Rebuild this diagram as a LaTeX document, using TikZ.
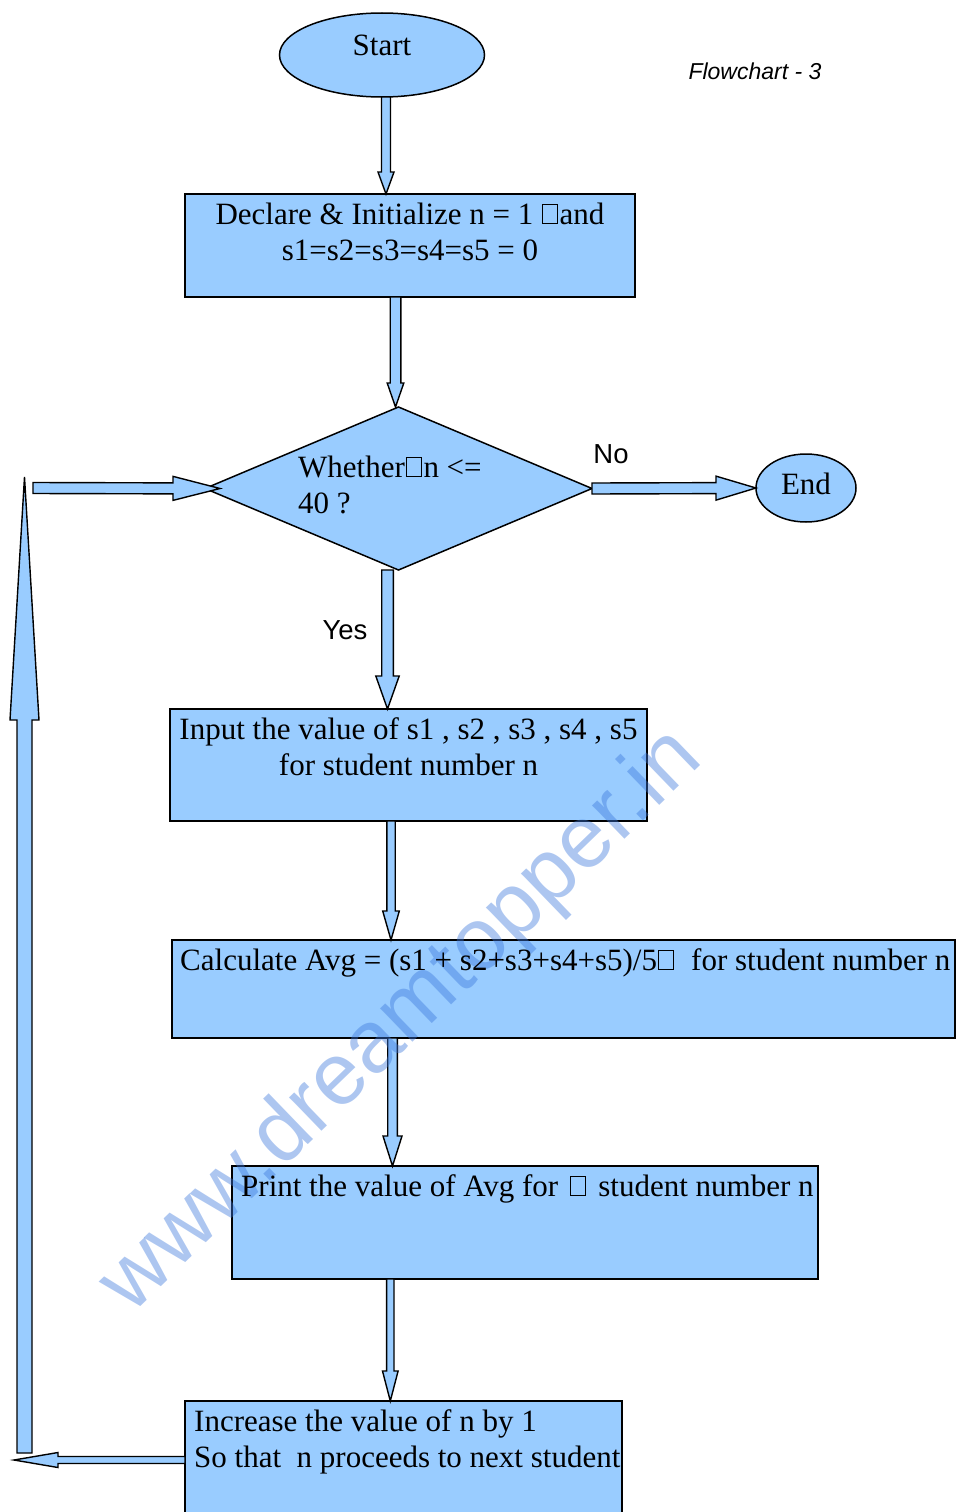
\documentclass[tikz,border=0pt]{standalone}
\usepackage{fontspec}
\setmainfont{Liberation Serif}
\setsansfont{Liberation Sans}
\usetikzlibrary{shapes.geometric,calc}
\definecolor{boxblue}{RGB}{153,204,255}
\definecolor{wm}{RGB}{60,120,220}
\newcommand\tofu{\kern1pt\vbox{\hrule height 0.8pt\hbox{\vrule width 0.8pt height 18.5pt\kern14pt\vrule width 0.8pt}\hrule height 0.8pt}\kern2pt}
% block arrow: #1 from, #2 to (tip), #3 half shaft, #4 half head, #5 head length
\newcommand\blk[5]{%
  \coordinate (hh) at ($(#2)!#5!(#1)$);
  \draw[arr] ($(#1)!#3!90:(#2)$) -- ($(hh)!#3!90:(#2)$) -- ($(hh)!#4!90:(#2)$) -- (#2)
    -- ($(hh)!#4!-90:(#2)$) -- ($(hh)!#3!-90:(#2)$) -- ($(#1)!#3!-90:(#2)$) -- cycle;}
\begin{document}
\begin{tikzpicture}[x=1pt,y=-1pt,
  shp/.style={draw=black, fill=boxblue, line width=1.5pt, inner sep=0pt, outer sep=0pt},
  boxs/.style={shp, rectangle, anchor=north west},
  ell/.style={shp, ellipse},
  arr/.style={draw=black, fill=boxblue, line width=1.4pt, line join=miter},
  txt/.style={inner sep=0pt, font=\fontsize{31}{36}\selectfont},
  stxt/.style={inner sep=0pt, font=\sffamily\fontsize{27.5}{32}\selectfont}]
\useasboundingbox (0,0) rectangle (960,1512);

% shapes
\node[ell, minimum width=205, minimum height=84] (start) at (382,55) {};
\node[boxs, minimum width=450, minimum height=103] (dec) at (185,194) {};
\node[shp, diamond, minimum width=387, minimum height=163] (dia) at (398.5,488.5) {};
\node[ell, minimum width=100, minimum height=68] (end) at (806,488) {};
\node[boxs, minimum width=477, minimum height=112] (inp) at (170,709) {};
\node[boxs, minimum width=783, minimum height=98] (calc) at (172,940) {};
\node[boxs, minimum width=586, minimum height=113] (prn) at (232,1166) {};
\node[boxs, minimum width=437, minimum height=140] (inc) at (185,1401) {};

% connector end points
\coordinate (a1s) at ($(start.south)+(4,0)$);
\coordinate (a1e) at ($(dec.north)+(-24,0)$);
\coordinate (a2s) at ($(dec.south)+(-14.5,0)$);
\coordinate (a2e) at ($(dia.north)+(-3,0)$);
\coordinate (a3s) at ($(dia.south)+(-11,0)$);
\coordinate (a3e) at ($(inp.north)+(-21,0)$);
\coordinate (a4s) at ($(inp.south)+(-17.5,0)$);
\coordinate (a4e) at ($(calc.north)+(-172.5,0)$);
\coordinate (a5s) at ($(calc.south)+(-171,0)$);
\coordinate (a5e) at ($(prn.north)+(-132.5,0)$);
\coordinate (a6s) at ($(prn.south)+(-134.7,0)$);
\coordinate (a6e) at ($(inc.north)+(-13.2,0)$);
\coordinate (loopin) at (33,488);
\coordinate (dtip) at ($(dia.west)+(15,0)$);
\coordinate (incw) at ($(inc.north west)+(0,59)$);
\coordinate (ltip) at (14,1460);
\coordinate (ubot) at (24.5,1453);
\coordinate (utop) at (24.5,477);

% connectors
\blk{a1s}{a1e}{4.5pt}{8pt}{22pt}
\blk{a2s}{a2e}{5.3pt}{8.3pt}{24pt}
\blk{a3s}{a3e}{5.8pt}{11.7pt}{33pt}
\blk{a4s}{a4e}{4.2pt}{8.3pt}{29pt}
\blk{a5s}{a5e}{4.8pt}{9.5pt}{30pt}
\blk{a6s}{a6e}{3.7pt}{7.8pt}{30pt}
\blk{dia.east}{end.west}{5.5pt}{12pt}{40pt}
\blk{loopin}{dtip}{5.5pt}{12pt}{47pt}
\blk{incw}{ltip}{3.5pt}{7.5pt}{44pt}
\blk{ubot}{utop}{7.5pt}{14.5pt}{243pt}

% watermark
\node[rotate=44, text=wm, opacity=0.42, inner sep=0pt,
  font=\sffamily\fontsize{88}{88}\selectfont] (wmk) at (402,1022) {www.dreamtopper.in};

% texts
\node[txt, anchor=base] (t0) at (382,56) {Start};
\node[txt, anchor=base] (t1) at (410,224) {Declare \& Initialize n = 1 \tofu and};
\node[txt, anchor=base] (t2) at (410,260) {s1=s2=s3=s4=s5 = 0};
\node[txt, anchor=base west] (t3) at (298,477) {Whether\tofu n <=};
\node[txt, anchor=base west] (t4) at (298,513) {40 ?};
\node[txt, anchor=base] (t5) at (806,494) {End};
\node[stxt, anchor=base] (tno) at (611,463) {No};
\node[stxt, anchor=base] (tyes) at (345,639) {Yes};
\node[txt, anchor=base] (t6) at (408.5,739) {Input the value of s1 , s2 , s3 , s4 , s5};
\node[txt, anchor=base] (t7) at (408.5,775) {for student number n};
\node[txt, anchor=base west] (t8) at (180,970) {Calculate Avg = (s1 + s2+s3+s4+s5)/5\tofu\ \ for student number n};
\node[txt, anchor=base west] (t9) at (241,1196) {Print the value of Avg for \kern3pt\tofu\kern3pt\ student number n};
\node[txt, anchor=base west] (t10) at (194,1431) {Increase the value of n by 1};
\node[txt, anchor=base west] (t11) at (194,1467) {So that\ \ n proceeds to next student};
\node[inner sep=0pt, anchor=base, font=\sffamily\itshape\fontsize{23}{26}\selectfont] (title) at (755,80) {Flowchart - 3};
\end{tikzpicture}
\end{document}
